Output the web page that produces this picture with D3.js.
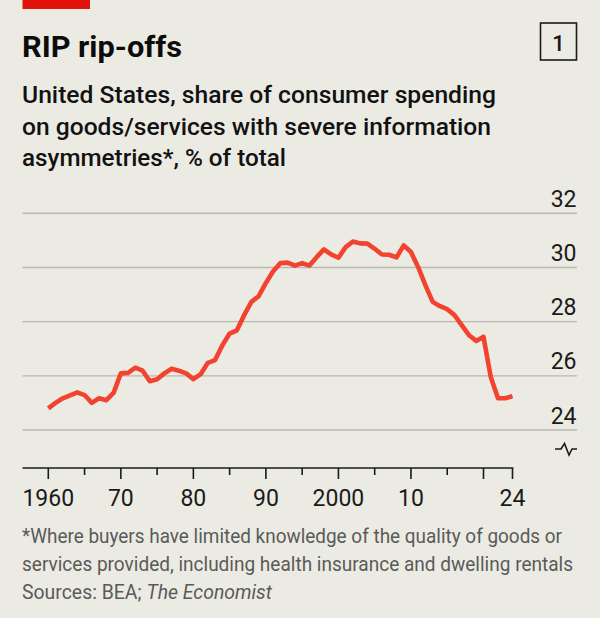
<!DOCTYPE html>
<html>
<head>
<meta charset="utf-8">
<script src="https://cdn.jsdelivr.net/npm/d3@7"></script>
<style>
  html, body { margin: 0; padding: 0; background: #ECEBE3; }
  svg { display: block; }
</style>
</head>
<body>
<svg id="chart" width="600" height="618"></svg>
<script>
const svg = d3.select("#chart");
const fontFamily = "Roboto, 'Noto Sans', sans-serif";

// data, annual
const years = d3.range(1960, 2025);
const share = [
  24.8, 25.0, 25.17, 25.28, 25.39, 25.29, 25.0, 25.17, 25.1, 25.37,
  26.09, 26.11, 26.3, 26.19, 25.8, 25.87, 26.09, 26.26, 26.19, 26.09,
  25.88, 26.06, 26.48, 26.58, 27.13, 27.56, 27.68, 28.24, 28.73, 28.94,
  29.43, 29.86, 30.16, 30.18, 30.07, 30.16, 30.07, 30.38, 30.67, 30.48,
  30.36, 30.75, 30.96, 30.89, 30.88, 30.69, 30.48, 30.47, 30.37, 30.81,
  30.57, 30.01, 29.34, 28.73, 28.57, 28.46, 28.24, 27.87, 27.5, 27.29,
  27.44, 25.96, 25.17, 25.17, 25.25
];
const yTicks = [24, 26, 28, 30, 32];
const majorYears = [1960, 1970, 1980, 1990, 2000, 2010, 2020, 2024];
const minorYears = [1965, 1975, 1985, 1995, 2005, 2015];
const xLabels = {1960: "1960", 1970: "70", 1980: "80", 1990: "90", 2000: "2000", 2010: "10", 2024: "24"};

const data = years.map((yr, i) => ({year: yr, value: share[i]}));

// scales
const x = d3.scaleLinear().domain([1960, 2024]).range([48.3, 512.5]);
const y = d3.scaleLinear().domain([24, 32]).range([430, 213.3]);
const baseY = 468;
const gridLeft = 22.5, gridRight = 577;

// red tag + title block
svg.append("rect").attr("x", 22.5).attr("y", 0).attr("width", 67.5).attr("height", 9).attr("fill", "#E3120B");

svg.append("text")
  .attr("x", 22).attr("y", 56.5)
  .attr("font-family", fontFamily).attr("font-weight", 700).attr("font-size", 30)
  .attr("fill", "#0C0C0C")
  .attr("textLength", 160).attr("lengthAdjust", "spacingAndGlyphs")
  .text("RIP rip-offs");

svg.append("rect").attr("x", 540.5).attr("y", 23).attr("width", 36).attr("height", 37)
  .attr("fill", "none").attr("stroke", "#1a1a1a").attr("stroke-width", 1.6);
svg.append("text")
  .attr("x", 558.5).attr("y", 50.5).attr("text-anchor", "middle")
  .attr("font-family", fontFamily).attr("font-weight", 500).attr("font-size", 22)
  .attr("fill", "#1a1a1a")
  .text("1");

const subtitle = [
  {t: "United States, share of consumer spending", w: 474, y: 102.5},
  {t: "on goods/services with severe information", w: 469, y: 134.5},
  {t: "asymmetries*, % of total", w: 264, y: 166}
];
svg.append("g").selectAll("text").data(subtitle).join("text")
  .attr("x", 22).attr("y", d => d.y)
  .attr("font-family", fontFamily).attr("font-weight", 500).attr("font-size", 23.5)
  .attr("fill", "#121212")
  .attr("textLength", d => d.w).attr("lengthAdjust", "spacingAndGlyphs")
  .text(d => d.t);

// gridlines + y labels
const grid = svg.append("g");
grid.selectAll("line").data(yTicks).join("line")
  .attr("x1", gridLeft).attr("x2", gridRight)
  .attr("y1", d => y(d)).attr("y2", d => y(d))
  .attr("stroke", "#B9B8B1").attr("stroke-width", 1.4);
grid.selectAll("text").data(yTicks).join("text")
  .attr("x", 576.5).attr("y", d => y(d) - 6.5)
  .attr("text-anchor", "end")
  .attr("font-family", fontFamily).attr("font-size", 23)
  .attr("fill", "#1a1a1a")
  .text(d => d);

// axis break mark
svg.append("path")
  .attr("d", "M555,449 L561,449 L564.5,443.5 L569,455 L572,449 L577,449")
  .attr("fill", "none").attr("stroke", "#1a1a1a").attr("stroke-width", 1.6)
  .attr("stroke-linejoin", "miter");

// x axis
const ax = svg.append("g");
ax.append("line")
  .attr("x1", gridLeft).attr("x2", x(2024) + 0.8)
  .attr("y1", baseY).attr("y2", baseY)
  .attr("stroke", "#1a1a1a").attr("stroke-width", 1.6);
ax.selectAll("line.major").data(majorYears).join("line").attr("class", "major")
  .attr("x1", d => x(d)).attr("x2", d => x(d))
  .attr("y1", baseY).attr("y2", baseY + 11)
  .attr("stroke", "#1a1a1a").attr("stroke-width", 1.6);
ax.selectAll("line.minor").data(minorYears).join("line").attr("class", "minor")
  .attr("x1", d => x(d)).attr("x2", d => x(d))
  .attr("y1", baseY).attr("y2", baseY + 7)
  .attr("stroke", "#1a1a1a").attr("stroke-width", 1.6);
ax.selectAll("text").data(Object.keys(xLabels).map(Number)).join("text")
  .attr("x", d => x(d)).attr("y", 505.5)
  .attr("text-anchor", "middle")
  .attr("font-family", fontFamily).attr("font-size", 23)
  .attr("fill", "#1a1a1a")
  .text(d => xLabels[d]);

// the line
const line = d3.line().x(d => x(d.year)).y(d => y(d.value));
svg.append("path")
  .datum(data)
  .attr("d", line)
  .attr("fill", "none")
  .attr("stroke", "#F1432F")
  .attr("stroke-width", 4.6)
  .attr("stroke-linejoin", "round")
  .attr("stroke-linecap", "butt");

// footnote
const notes = [
  {t: "*Where buyers have limited knowledge of the quality of goods or", w: 540, y: 543},
  {t: "services provided, including health insurance and dwelling rentals", w: 551, y: 571}
];
svg.append("g").selectAll("text").data(notes).join("text")
  .attr("x", 22).attr("y", d => d.y)
  .attr("font-family", fontFamily).attr("font-size", 19.5)
  .attr("fill", "#5A5A5A")
  .attr("textLength", d => d.w).attr("lengthAdjust", "spacingAndGlyphs")
  .text(d => d.t);

const src = svg.append("text")
  .attr("x", 22).attr("y", 598.5)
  .attr("font-family", fontFamily).attr("font-size", 19.5)
  .attr("fill", "#5A5A5A")
  .attr("textLength", 250).attr("lengthAdjust", "spacingAndGlyphs");
src.append("tspan").text("Sources: BEA; ");
src.append("tspan").attr("font-style", "italic").text("The Economist");
</script>
</body>
</html>
